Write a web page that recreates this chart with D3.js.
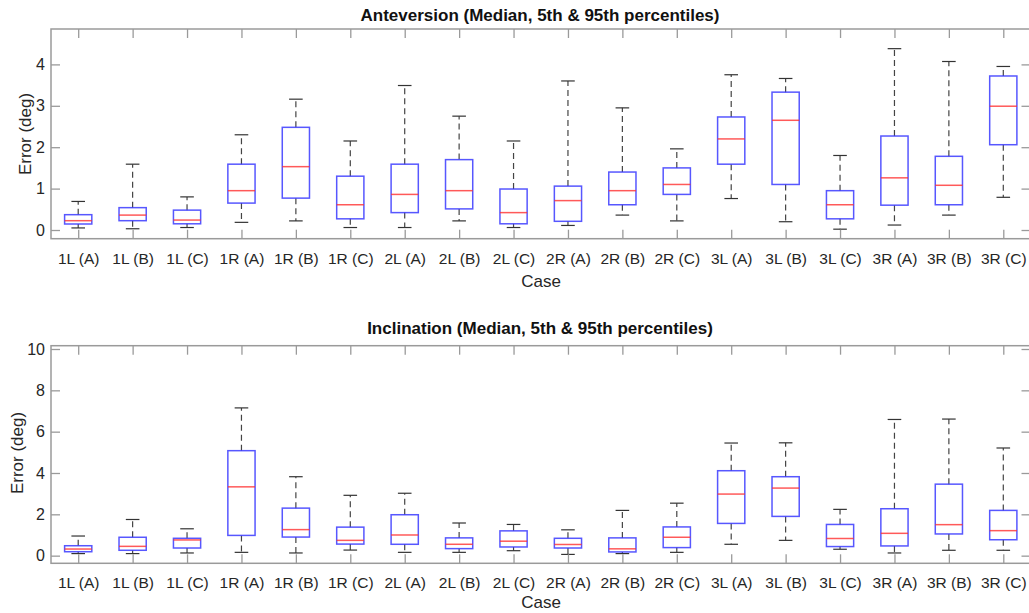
<!DOCTYPE html>
<html>
<head>
<meta charset="utf-8">
<script src="https://cdn.jsdelivr.net/npm/d3@7"></script>
<style>
  html, body { margin: 0; padding: 0; background: #fff; }
  svg { display: block; font-family: "Liberation Sans", Arial, Helvetica, sans-serif; }
</style>
</head>
<body>
<svg id="chart" width="1029" height="613"></svg>
<script>
// ---- Data ----
const cases = ["1L (A)","1L (B)","1L (C)","1R (A)","1R (B)","1R (C)","2L (A)","2L (B)","2L (C)",
               "2R (A)","2R (B)","2R (C)","3L (A)","3L (B)","3L (C)","3R (A)","3R (B)","3R (C)"];

// Anteversion error (deg): 5th pct, Q1, median, Q3, 95th pct
const antLo  = [0.05,0.03,0.06,0.185,0.22,0.06,0.06,0.22,0.06,0.11,0.36,0.22,0.76,0.20,0.02,0.12,0.36,0.79];
const antQ1  = [0.145,0.225,0.15,0.65,0.77,0.27,0.42,0.51,0.15,0.21,0.61,0.86,1.59,1.10,0.27,0.60,0.61,2.06];
const antMed = [0.225,0.36,0.24,0.95,1.53,0.61,0.86,0.95,0.42,0.71,0.95,1.10,2.20,2.65,0.61,1.26,1.08,2.99];
const antQ3  = [0.37,0.54,0.48,1.59,2.48,1.30,1.59,1.70,0.99,1.06,1.40,1.50,2.73,3.33,0.95,2.27,1.78,3.72];
const antHi  = [0.69,1.59,0.80,2.30,3.16,2.15,3.49,2.75,2.15,3.60,2.95,1.96,3.75,3.66,1.80,4.38,4.07,3.95];

// Inclination error (deg)
const incLo  = [0.10,0.10,0.13,0.16,0.13,0.27,0.16,0.16,0.24,0.06,0.10,0.16,0.55,0.74,0.31,0.13,0.26,0.26];
const incQ1  = [0.19,0.26,0.37,0.98,0.90,0.56,0.55,0.34,0.42,0.37,0.18,0.39,1.56,1.90,0.44,0.47,1.05,0.77];
const incMed = [0.32,0.45,0.76,3.33,1.26,0.74,1.00,0.55,0.70,0.54,0.33,0.89,2.98,3.27,0.83,1.08,1.50,1.21];
const incQ3  = [0.48,0.89,0.84,5.08,2.30,1.38,1.98,0.86,1.20,0.84,0.86,1.39,4.11,3.82,1.51,2.27,3.46,2.19];
const incHi  = [0.95,1.75,1.30,7.15,3.82,2.92,3.02,1.58,1.51,1.25,2.19,2.54,5.45,5.46,2.24,6.59,6.61,5.21];

const antTicks = [0,1,2,3,4];
const incTicks = [0,2,4,6,8,10];

// ---- Drawing ----
const svg = d3.select("#chart");
svg.append("rect").attr("width",1029).attr("height",613).attr("fill","#fff");

const axisColor = "#9a9a9a";
const textColor = "#262626";

function panel(cfg) {
  const g = svg.append("g");
  const x = d3.scaleLinear().domain([0.5, cases.length + 0.5]).range([cfg.left, cfg.right]);
  const y = d3.scaleLinear().domain(cfg.yDomain).range([cfg.bottom, cfg.top]);
  const tickLen = 9;

  const data = cases.map((c,i) => ({c, i: i+1, lo: cfg.lo[i], q1: cfg.q1[i], med: cfg.med[i], q3: cfg.q3[i], hi: cfg.hi[i]}));
  const bw = 0.25, cw = 0.125;
  const b = g.selectAll("g.box").data(data).enter().append("g").attr("class","box");

  // whiskers (dashed)
  b.append("line").attr("x1",d=>x(d.i)).attr("x2",d=>x(d.i)).attr("y1",d=>y(d.q3)).attr("y2",d=>y(d.hi))
    .attr("stroke","#444").attr("stroke-width",1.2).attr("stroke-dasharray","6,4");
  b.append("line").attr("x1",d=>x(d.i)).attr("x2",d=>x(d.i)).attr("y1",d=>y(d.q1)).attr("y2",d=>y(d.lo))
    .attr("stroke","#444").attr("stroke-width",1.2).attr("stroke-dasharray","6,4");
  // caps
  b.append("line").attr("x1",d=>x(d.i-cw)).attr("x2",d=>x(d.i+cw)).attr("y1",d=>y(d.hi)).attr("y2",d=>y(d.hi))
    .attr("stroke","#333").attr("stroke-width",1.2);
  b.append("line").attr("x1",d=>x(d.i-cw)).attr("x2",d=>x(d.i+cw)).attr("y1",d=>y(d.lo)).attr("y2",d=>y(d.lo))
    .attr("stroke","#333").attr("stroke-width",1.2);
  // box
  b.append("rect").attr("x",d=>x(d.i-bw)).attr("width",d=>x(d.i+bw)-x(d.i-bw))
    .attr("y",d=>y(d.q3)).attr("height",d=>y(d.q1)-y(d.q3))
    .attr("fill","none").attr("stroke","#3a3aff").attr("stroke-opacity",0.85).attr("stroke-width",1.5);
  // median
  b.append("line").attr("x1",d=>x(d.i-bw)).attr("x2",d=>x(d.i+bw)).attr("y1",d=>y(d.med)).attr("y2",d=>y(d.med))
    .attr("stroke","#ff3030").attr("stroke-opacity",0.8).attr("stroke-width",1.5);

  // frame
  g.append("rect").attr("x",cfg.left).attr("y",cfg.top).attr("width",cfg.right-cfg.left).attr("height",cfg.bottom-cfg.top)
    .attr("fill","none").attr("stroke",axisColor).attr("stroke-width",1.5);

  // x axis (bottom) with inward ticks
  const xAxis = d3.axisBottom(x).tickValues(d3.range(1, cases.length+1)).tickFormat(d => cases[d-1])
    .tickSizeInner(-tickLen).tickSizeOuter(0).tickPadding(14);
  const gx = g.append("g").attr("transform",`translate(0,${cfg.bottom})`).call(xAxis);
  gx.select(".domain").remove();
  gx.selectAll(".tick line").attr("stroke",axisColor).attr("stroke-width",1.3);
  gx.selectAll(".tick text").attr("fill",textColor).attr("font-size",15.5).attr("font-family",null);

  // x axis top ticks
  const xTop = d3.axisTop(x).tickValues(d3.range(1, cases.length+1)).tickFormat("").tickSizeInner(-tickLen).tickSizeOuter(0);
  const gxt = g.append("g").attr("transform",`translate(0,${cfg.top})`).call(xTop);
  gxt.select(".domain").remove();
  gxt.selectAll(".tick line").attr("stroke",axisColor).attr("stroke-width",1.3);

  // y axis left
  const yAxis = d3.axisLeft(y).tickValues(cfg.ticks).tickFormat(d3.format("d"))
    .tickSizeInner(-tickLen).tickSizeOuter(0).tickPadding(6);
  const gy = g.append("g").attr("transform",`translate(${cfg.left},0)`).call(yAxis);
  gy.select(".domain").remove();
  gy.selectAll(".tick line").attr("stroke",axisColor).attr("stroke-width",1.3);
  gy.selectAll(".tick text").attr("fill",textColor).attr("font-size",16).attr("font-family",null);

  // y axis right ticks
  const yRight = d3.axisRight(y).tickValues(cfg.ticks).tickFormat("").tickSizeInner(-tickLen).tickSizeOuter(0);
  const gyr = g.append("g").attr("transform",`translate(${cfg.right},0)`).call(yRight);
  gyr.select(".domain").remove();
  gyr.selectAll(".tick line").attr("stroke",axisColor).attr("stroke-width",1.3);

  // title
  g.append("text").attr("x",540).attr("y",cfg.titleY).attr("text-anchor","middle")
    .attr("font-size",17).attr("font-weight","bold").attr("fill","#111").text(cfg.title);
  // x label
  g.append("text").attr("x",541).attr("y",cfg.caseY).attr("text-anchor","middle")
    .attr("font-size",17).attr("fill",textColor).text("Case");
  // y label
  g.append("text").attr("transform",`translate(${cfg.ylabX},${cfg.ylabY}) rotate(-90)`).attr("text-anchor","middle")
    .attr("font-size",17).attr("fill",textColor).text("Error (deg)");
}

panel({
  left: 51, right: 1030.5, top: 29, bottom: 238.7,
  yDomain: [-0.21, 4.855], ticks: antTicks,
  lo: antLo, q1: antQ1, med: antMed, q3: antQ3, hi: antHi,
  title: "Anteversion (Median, 5th & 95th percentiles)", titleY: 21,
  caseY: 287, ylabX: 31, ylabY: 134
});

panel({
  left: 51, right: 1030.5, top: 345.7, bottom: 563.3,
  yDomain: [-0.37, 10.16], ticks: incTicks,
  lo: incLo, q1: incQ1, med: incMed, q3: incQ3, hi: incHi,
  title: "Inclination (Median, 5th & 95th percentiles)", titleY: 334,
  caseY: 608, ylabX: 22.5, ylabY: 453
});
</script>
</body>
</html>
